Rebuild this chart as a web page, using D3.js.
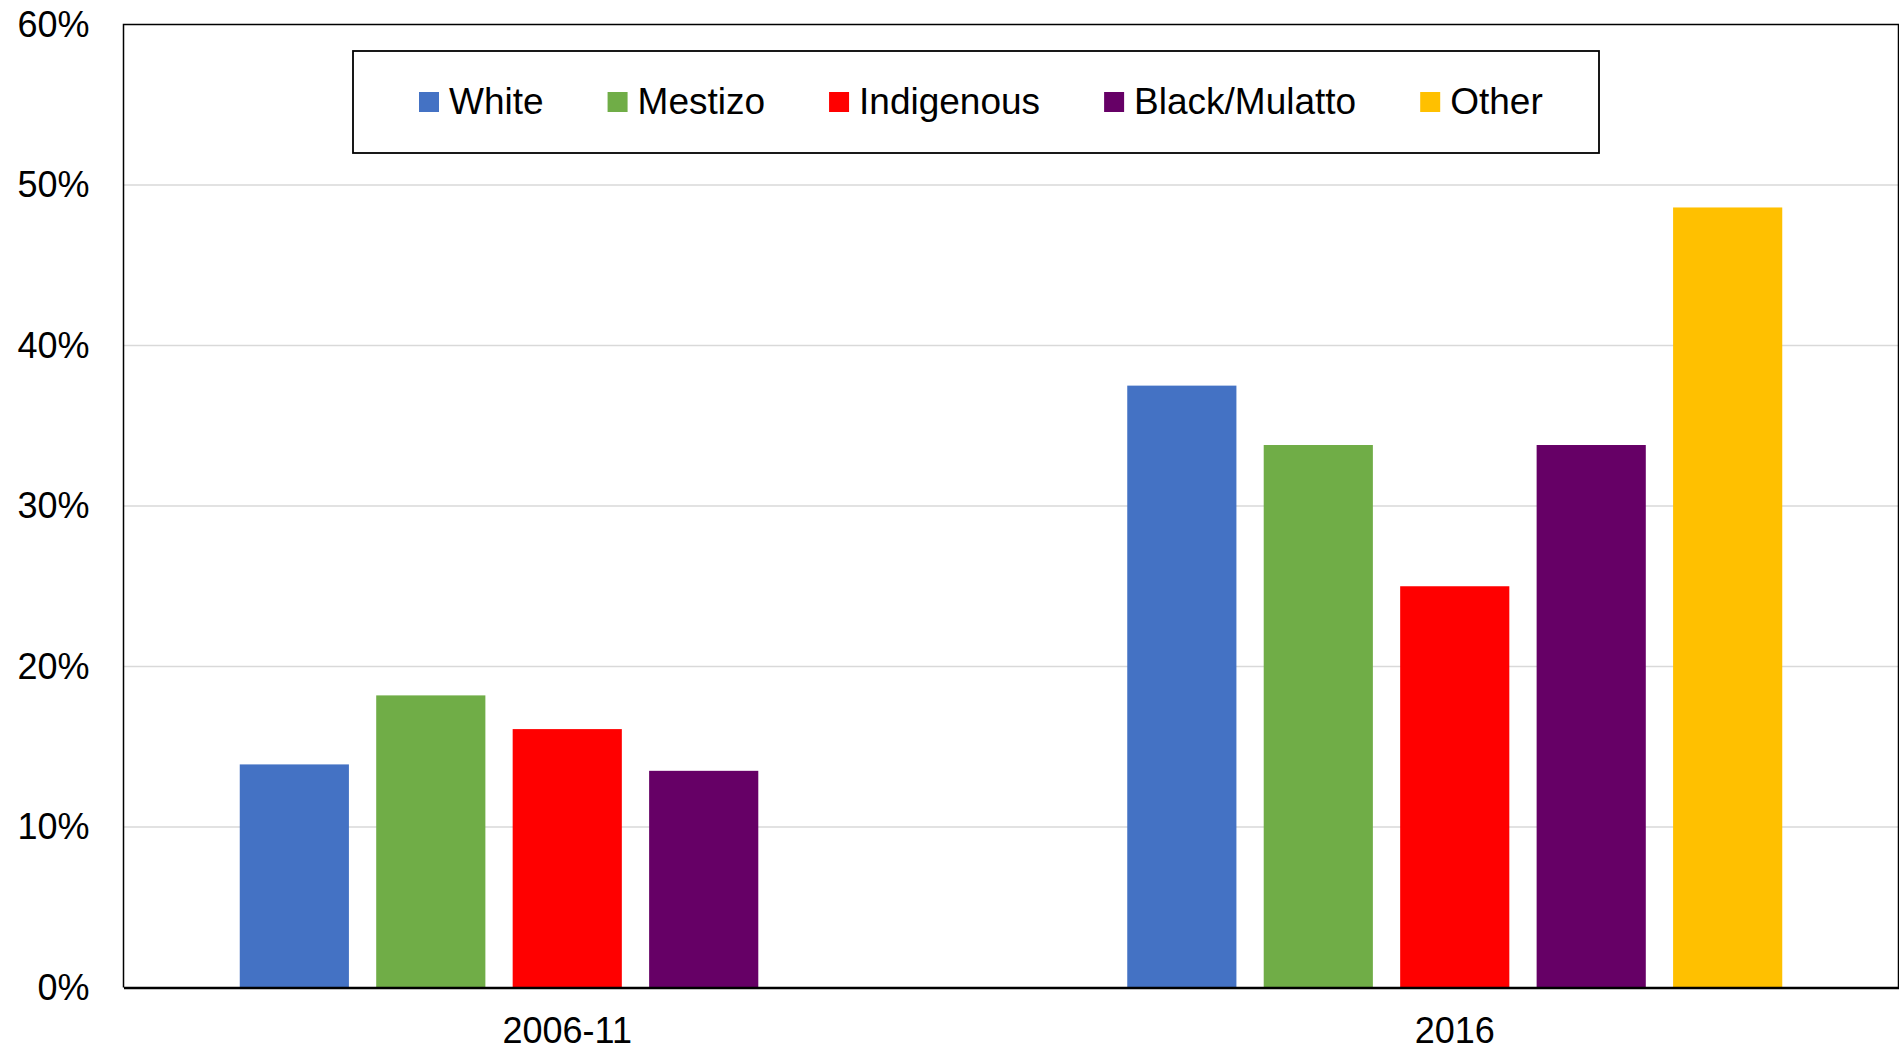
<!DOCTYPE html>
<html>
<head>
<meta charset="utf-8">
<script src="https://cdn.jsdelivr.net/npm/d3@7"></script>
<style>
  html, body { margin: 0; padding: 0; background: #fff; }
  svg { display: block; font-family: "Liberation Sans", Arial, sans-serif; }
</style>
</head>
<body>
<svg id="chart" width="1899" height="1051"></svg>
<script>
const categories = ["2006-11", "2016"];
const seriesNames = ["White", "Mestizo", "Indigenous", "Black/Mulatto", "Other"];
const seriesColors = ["#4472C4", "#70AD47", "#FF0000", "#660066", "#FFC000"];
const white = [13.9, 37.5];
const mestizo = [18.2, 33.8];
const indigenous = [16.1, 25.0];
const blackMulatto = [13.5, 33.8];
const other = [null, 48.6];
const yTicks = [0, 10, 20, 30, 40, 50, 60];

const seriesValues = [white, mestizo, indigenous, blackMulatto, other];

const svg = d3.select("#chart");
const W = 1899, H = 1051;
const m = { left: 123.5, right: 0.5, top: 24.5, bottom: 63.5 };
const plotL = m.left, plotR = W - m.right, plotT = m.top, plotB = H - m.bottom;

const x0 = d3.scaleBand().domain(categories).range([plotL, plotR]).padding(0);
const groupW = 655;
const x1 = d3.scaleBand().domain(seriesNames).range([0, groupW]).paddingInner(0.2).paddingOuter(0);
const y = d3.scaleLinear().domain([0, 60]).range([plotB, plotT]);

// gridlines
svg.append("g")
  .selectAll("line")
  .data(yTicks.filter(t => t > 0 && t < 60))
  .join("line")
  .attr("x1", plotL).attr("x2", plotR)
  .attr("y1", d => y(d)).attr("y2", d => y(d))
  .attr("stroke", "#d9d9d9").attr("stroke-width", 1.5);

// bars
const rows = [];
categories.forEach((c, ci) => {
  seriesNames.forEach((s, si) => {
    const v = seriesValues[si][ci];
    if (v != null) rows.push({ c, s, v, color: seriesColors[si] });
  });
});
svg.append("g")
  .selectAll("rect")
  .data(rows)
  .join("rect")
  .attr("x", d => x0(d.c) + (x0.bandwidth() - groupW) / 2 + x1(d.s))
  .attr("width", x1.bandwidth())
  .attr("y", d => y(d.v))
  .attr("height", d => y(0) - y(d.v))
  .attr("fill", d => d.color);

// plot frame (left, top, right)
svg.append("path")
  .attr("d", `M${plotL},${plotB} L${plotL},${plotT} L${plotR},${plotT} L${plotR},${plotB}`)
  .attr("fill", "none").attr("stroke", "#000").attr("stroke-width", 1.5);

// y axis labels
const yAxis = d3.axisLeft(y).tickValues(yTicks).tickFormat(d => d + "%").tickSize(0).tickPadding(34);
const gy = svg.append("g").attr("transform", `translate(${plotL},0)`).call(yAxis);
gy.select(".domain").remove();
gy.selectAll("text").attr("font-size", 36).attr("fill", "#000")
  .attr("font-family", "Liberation Sans, Arial, sans-serif");

// x axis
const xAxis = d3.axisBottom(x0).tickSize(0).tickPadding(30);
const gx = svg.append("g").attr("transform", `translate(0,${plotB})`).call(xAxis);
gx.select(".domain").attr("stroke", "#000").attr("stroke-width", 2.5);
gx.selectAll("text").attr("font-size", 36).attr("fill", "#000")
  .attr("font-family", "Liberation Sans, Arial, sans-serif");

// legend
const leg = svg.append("g");
leg.append("rect")
  .attr("x", 353).attr("y", 51).attr("width", 1246).attr("height", 102)
  .attr("fill", "#fff").attr("stroke", "#000").attr("stroke-width", 1.8);
let lx = 419;
seriesNames.forEach((s, i) => {
  leg.append("rect").attr("x", lx).attr("y", 92).attr("width", 20).attr("height", 20)
    .attr("fill", seriesColors[i]);
  const t = leg.append("text").attr("x", lx + 30).attr("y", 113.5)
    .attr("font-size", 37).attr("fill", "#000").text(s);
  lx += 30 + t.node().getComputedTextLength() + 64;
});
</script>
</body>
</html>
